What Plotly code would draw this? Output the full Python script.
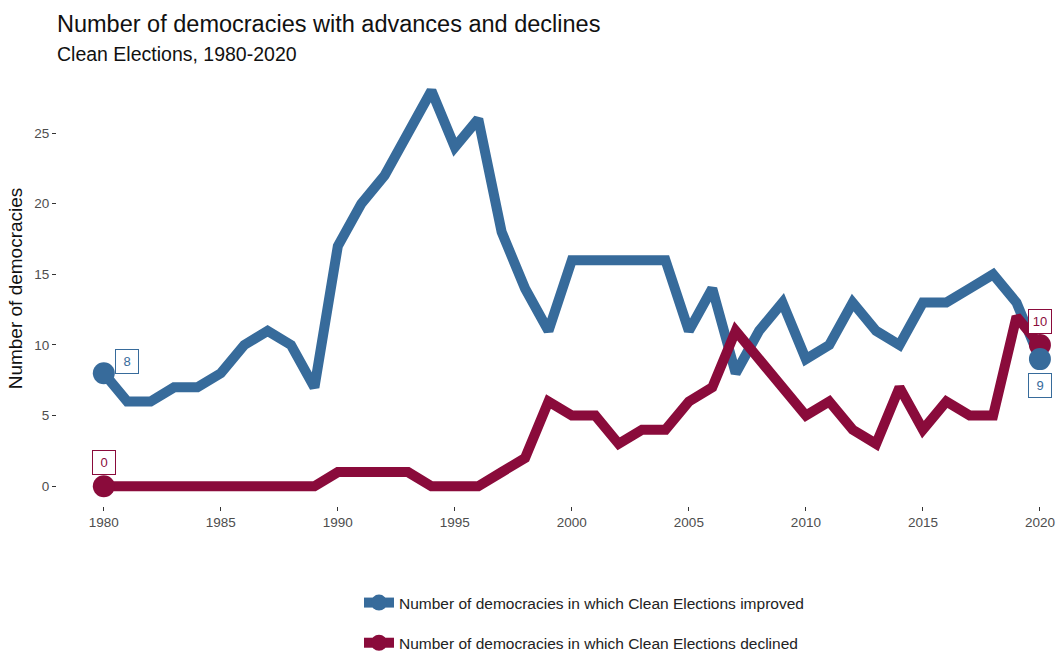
import plotly.graph_objects as go

years = list(range(1980, 2021))
improved = [8, 6, 6, 7, 7, 8, 10, 11, 10, 7,
            17, 20, 22, 25, 28, 24, 26, 18, 14, 11,
            16, 16, 16, 16, 16, 11, 14, 8, 11, 13,
            9, 10, 13, 11, 10, 13, 13, 14, 15, 13,
            9]
declined = [0, 0, 0, 0, 0, 0, 0, 0, 0, 0,
            1, 1, 1, 1, 0, 0, 0, 1, 2, 6,
            5, 5, 3, 4, 4, 6, 7, 11, 9, 7,
            5, 6, 4, 3, 7, 4, 6, 5, 5, 12,
            10]
name_imp = "Number of democracies in which Clean Elections improved"
name_dec = "Number of democracies in which Clean Elections declined"
x_ticks = [1980, 1985, 1990, 1995, 2000, 2005, 2010, 2015, 2020]
y_ticks = [0, 5, 10, 15, 20, 25]

BLUE = "#376b9b"
RED = "#8a0b3b"
FONT = "Liberation Sans, Arial, sans-serif"

# figure is taller than the window so the legend fits without pushing margins
W, H = 1057, 690
L, R, T = 57, 0, 71
PH = 435
B = H - T - PH
PW = W - L - R

series = [(improved, BLUE, name_imp, "a"), (declined, RED, name_dec, "b")]

fig = go.Figure()
# lines (declined drawn over improved)
for ys, col, nm, grp in series:
    fig.add_trace(go.Scatter(
        x=years, y=ys, name=nm, mode="lines", line=dict(color=col, width=10),
        legendgroup=grp, showlegend=False, hoverinfo="x+y"))
# end points (improved drawn over declined)
for ys, col, nm, grp in series[::-1]:
    fig.add_trace(go.Scatter(
        x=[years[0], years[-1]], y=[ys[0], ys[-1]], name=nm, mode="markers",
        marker=dict(color=col, size=22, opacity=1, line=dict(width=0)),
        legendgroup=grp, showlegend=False, hoverinfo="x+y"))
# legend entries
for ys, col, nm, grp in series:
    fig.add_trace(go.Scatter(
        x=[None], y=[None], name=nm, mode="lines+markers",
        line=dict(color=col, width=10),
        marker=dict(color=col, size=16, opacity=1),
        legendgroup=grp, showlegend=True))

def label(x, y, text, color, xs, ys):
    fig.add_annotation(x=x, y=y, xref="x", yref="y", text=text, showarrow=False,
                       xshift=xs, yshift=ys, font=dict(size=13, color=color, family=FONT),
                       bgcolor="white", bordercolor=color, borderwidth=1, borderpad=4,
                       width=14, align="center")

label(years[0], improved[0], str(improved[0]), BLUE, 23, 12)
label(years[0], declined[0], str(declined[0]), RED, 0, 24)
label(years[-1], declined[-1], str(declined[-1]), RED, 0, 23)
label(years[-1], improved[-1], str(improved[-1]), BLUE, 0, -26)

fig.add_annotation(text="Clean Elections, 1980-2020", xref="paper", yref="paper",
                   x=(55 - L) / PW, y=(T + PH - 54) / PH, xanchor="left", yanchor="middle",
                   showarrow=False,
                   font=dict(size=19.5, color="#111111", family=FONT))

fig.update_layout(
    width=W, height=H,
    margin=dict(l=L, r=R, t=T, b=B),
    paper_bgcolor="white", plot_bgcolor="white",
    font=dict(family=FONT, color="#4d4d4d"),
    title=dict(text="Number of democracies with advances and declines",
               x=57 / W, xref="container", xanchor="left",
               y=1 - 24 / H, yref="container", yanchor="middle",
               font=dict(size=23.5, color="#111111")),
    xaxis=dict(range=[1978, 2020.73], tickvals=x_ticks, showgrid=False, zeroline=False,
               showline=False, ticks="outside", ticklen=4, tickcolor="#333333",
               tickfont=dict(size=13.5, color="#4d4d4d"), automargin=False),
    yaxis=dict(range=[-1.4, 29.4], tickvals=y_ticks, showgrid=False, zeroline=False,
               showline=False, ticks="outside", ticklen=4, tickcolor="#333333",
               tickfont=dict(size=13.5, color="#4d4d4d"), automargin=False,
               title=dict(text="Number of democracies", font=dict(size=19, color="#111111"),
                          standoff=6)),
    showlegend=True,
    legend=dict(x=(359 - L) / PW, y=(T + PH - 586) / PH, xanchor="left", yanchor="top",
                orientation="v", tracegroupgap=17, font=dict(size=15.5, color="#222222"),
                bgcolor="rgba(0,0,0,0)"),
)

fig.write_html("out.html", config={"displayModeBar": False},
               post_script="document.body.style.margin='0px';"
                           "document.documentElement.style.overflow='hidden';")
